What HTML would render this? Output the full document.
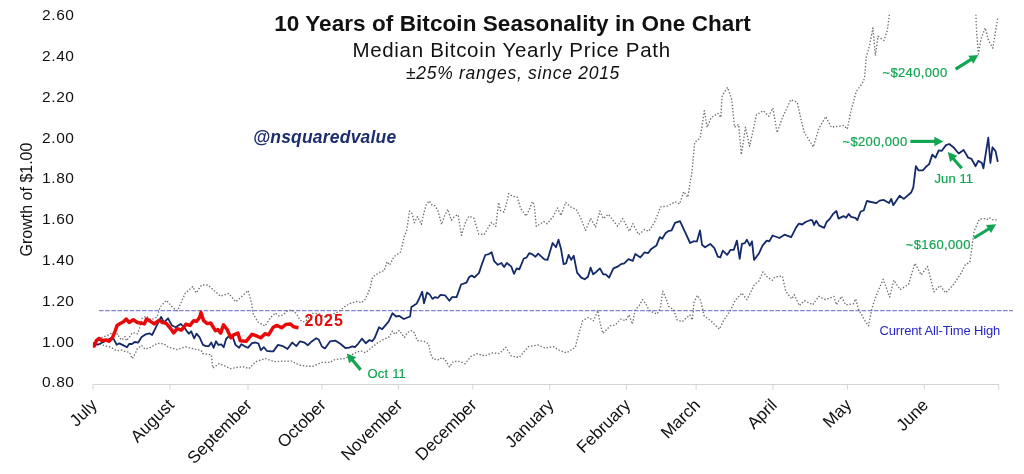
<!DOCTYPE html>
<html><head><meta charset="utf-8"><style>
html,body{margin:0;padding:0;background:#fff;}
svg{display:block;will-change:transform;}
text{font-family:"Liberation Sans", sans-serif;}
.yl{font-size:15.5px;fill:#111;letter-spacing:0.6px;}
.ml{font-size:17px;fill:#111;}
.g{font-size:13px;fill:#12a552;stroke:#12a552;stroke-width:0.2px;}
</style></head><body>
<svg width="1024" height="474" viewBox="0 0 1024 474">
<defs><clipPath id="plot"><rect x="88" y="14.5" width="930" height="375"/></clipPath></defs>
<rect width="1024" height="474" fill="#fff"/>
<text x="74.6" y="20.3" text-anchor="end" class="yl">2.60</text>
<text x="74.6" y="61.1" text-anchor="end" class="yl">2.40</text>
<text x="74.6" y="101.9" text-anchor="end" class="yl">2.20</text>
<text x="74.6" y="142.6" text-anchor="end" class="yl">2.00</text>
<text x="74.6" y="183.4" text-anchor="end" class="yl">1.80</text>
<text x="74.6" y="224.2" text-anchor="end" class="yl">1.60</text>
<text x="74.6" y="265.0" text-anchor="end" class="yl">1.40</text>
<text x="74.6" y="305.8" text-anchor="end" class="yl">1.20</text>
<text x="74.6" y="346.5" text-anchor="end" class="yl">1.00</text>
<text x="74.6" y="387.3" text-anchor="end" class="yl">0.80</text>

<text transform="translate(31.5 199.5) rotate(-90)" text-anchor="middle" style="font-size:16px;fill:#111">Growth of $1.00</text>
<line x1="92.5" y1="384.5" x2="999" y2="384.5" stroke="#d4d4d4" stroke-width="1"/>
<line x1="93" y1="384.5" x2="93" y2="389.5" stroke="#d4d4d4" stroke-width="1"/><line x1="170" y1="384.5" x2="170" y2="389.5" stroke="#d4d4d4" stroke-width="1"/><line x1="248" y1="384.5" x2="248" y2="389.5" stroke="#d4d4d4" stroke-width="1"/><line x1="322" y1="384.5" x2="322" y2="389.5" stroke="#d4d4d4" stroke-width="1"/><line x1="398.4" y1="384.5" x2="398.4" y2="389.5" stroke="#d4d4d4" stroke-width="1"/><line x1="472.8" y1="384.5" x2="472.8" y2="389.5" stroke="#d4d4d4" stroke-width="1"/><line x1="549.7" y1="384.5" x2="549.7" y2="389.5" stroke="#d4d4d4" stroke-width="1"/><line x1="626.6" y1="384.5" x2="626.6" y2="389.5" stroke="#d4d4d4" stroke-width="1"/><line x1="696.1" y1="384.5" x2="696.1" y2="389.5" stroke="#d4d4d4" stroke-width="1"/><line x1="773" y1="384.5" x2="773" y2="389.5" stroke="#d4d4d4" stroke-width="1"/><line x1="847.4" y1="384.5" x2="847.4" y2="389.5" stroke="#d4d4d4" stroke-width="1"/><line x1="924.3" y1="384.5" x2="924.3" y2="389.5" stroke="#d4d4d4" stroke-width="1"/><line x1="998.7" y1="384.5" x2="998.7" y2="389.5" stroke="#d4d4d4" stroke-width="1"/>
<text x="98" y="406" text-anchor="end" class="ml" transform="rotate(-45 98 406)">July</text>
<text x="175" y="406" text-anchor="end" class="ml" transform="rotate(-45 175 406)">August</text>
<text x="253" y="406" text-anchor="end" class="ml" transform="rotate(-45 253 406)">September</text>
<text x="327" y="406" text-anchor="end" class="ml" transform="rotate(-45 327 406)">October</text>
<text x="403.4" y="406" text-anchor="end" class="ml" transform="rotate(-45 403.4 406)">November</text>
<text x="477.8" y="406" text-anchor="end" class="ml" transform="rotate(-45 477.8 406)">December</text>
<text x="554.7" y="406" text-anchor="end" class="ml" transform="rotate(-45 554.7 406)">January</text>
<text x="631.6" y="406" text-anchor="end" class="ml" transform="rotate(-45 631.6 406)">February</text>
<text x="701.1" y="406" text-anchor="end" class="ml" transform="rotate(-45 701.1 406)">March</text>
<text x="778" y="406" text-anchor="end" class="ml" transform="rotate(-45 778 406)">April</text>
<text x="852.4" y="406" text-anchor="end" class="ml" transform="rotate(-45 852.4 406)">May</text>
<text x="929.3" y="406" text-anchor="end" class="ml" transform="rotate(-45 929.3 406)">June</text>

<text x="512.5" y="30.5" text-anchor="middle" style="font-size:22.5px;font-weight:bold;fill:#111;letter-spacing:0.07px">10 Years of Bitcoin Seasonality in One Chart</text>
<text x="511.6" y="56.5" text-anchor="middle" style="font-size:20.5px;fill:#111;letter-spacing:0.69px">Median Bitcoin Yearly Price Path</text>
<text x="513" y="79.2" text-anchor="middle" style="font-size:17.5px;font-style:italic;fill:#111;letter-spacing:0.73px">±25% ranges, since 2015</text>
<text x="253" y="143.1" style="font-size:17.5px;font-weight:bold;font-style:italic;fill:#1b2d6e;letter-spacing:0.2px">@nsquaredvalue</text>
<line x1="99" y1="310.5" x2="1013" y2="310.5" stroke="#8583cf" stroke-width="1.25" stroke-dasharray="4.6 1.55"/>
<g clip-path="url(#plot)" fill="none" stroke-linejoin="round">
<path d="M93,343 L98,340 L103,337 L108.5,335 L112,333 L118,334 L119,337.5 L122,340 L125,336.5 L126.4,340.7 L130,336.5 L131.7,333.3 L135.4,332.8 L137.5,333.8 L139.6,328 L142.2,318.2 L146.4,316.1 L151.1,319.8 L156.9,317.2 L160.1,307.1 L166.4,300.3 L172.8,307.7 L177.5,310.8 L181.2,302.4 L185.4,292.9 L192.8,286.6 L196,292.9 L201.6,285 L207.9,285 L213.4,289.9 L220.4,296.2 L228.7,293.4 L235.7,301.8 L241.3,296.9 L248.2,290.6 L251.7,303.9 L253.1,313.6 L258,322 L265,326.1 L270.5,317.8 L275.3,312.9 L279,316 L283,315 L287,311 L292,310 L296.5,313.8 L300,320 L303,322 L306,321 L312,313.4 L318.5,313.4 L324,317 L331,314.5 L336,313 L340.3,310.3 L344.4,306.9 L349.9,303.5 L356.8,301.4 L361.6,302.8 L365,299.4 L367.8,293.9 L370.5,287 L371.9,278.8 L374.6,275.4 L381.5,271.3 L384.2,270.6 L387,261.7 L389.7,265.1 L393.8,256.9 L400.5,252 L401.9,247 L404.2,236.9 L406.6,230.6 L408.1,221.3 L409.4,211.1 L412,213.4 L414.4,222.8 L417.5,216.6 L421.4,224.4 L423.8,213.4 L426.1,204.8 L429.2,200.9 L432.3,205.6 L434.7,205.6 L437.8,210.3 L441.7,224.4 L444.4,216.1 L447.8,209.3 L451.3,220.2 L454.7,216.1 L458.1,214.8 L461.5,235.3 L465.7,221.6 L469.1,216.1 L473.9,218.2 L478.7,234 L484.2,234.6 L489,226.4 L491.7,222.3 L495.8,226.4 L498.6,202.4 L500.6,210.7 L504,212 L506.8,202.4 L508.8,193.5 L512.3,196.3 L517.1,197 L520.5,207.9 L526,216.1 L530.1,207.9 L532.2,201.7 L534.2,204.5 L536.3,226.4 L543.8,221.6 L547.2,223.7 L553.4,216.1 L557.5,207.9 L561,215.5 L565.7,202.4 L570.3,206.8 L576.2,209.3 L581.3,219.4 L585.5,230.4 L590.6,218.6 L595.6,227 L599.9,211 L603.2,218.6 L608.3,214.3 L617.6,226.2 L622.6,218.6 L629.4,231.2 L632.8,223.6 L638.7,234.6 L644.6,229.5 L648.8,231.2 L654.7,221.9 L658.1,213.5 L660.6,206.8 L668.2,205.9 L675,201.7 L679.6,204 L683.7,191.7 L687.8,197.2 L692,171.1 L694.7,142.3 L700.2,138.1 L704.3,110.7 L707.1,127.2 L711.2,117.5 L718,113.4 L720.8,117.5 L722.2,95.6 L727.6,87.4 L731.8,99.7 L734.5,127.2 L738.6,124.4 L741.4,154.6 L745.5,127.2 L749.6,146.4 L756.5,114.8 L763.3,110.7 L768.8,116.2 L772.9,108 L777.1,132.6 L782.5,117.5 L790.8,99.7 L797.2,102.2 L800.8,118.3 L804.3,132.6 L807.9,138 L813.3,147 L818.7,129 L825.8,116.5 L831.2,127.2 L843.8,125.4 L847.3,129 L850.9,111.1 L856.3,91.4 L861.7,84.2 L864.5,78.5 L866.2,57.4 L869.5,45.6 L872.9,27.9 L875.4,55.7 L878,36.3 L883.9,40.5 L887.3,30.4 L889.3,15.2 L893,-10 L972,-10 L975.9,15.2 L976.7,33.8 L978.4,54 L981,38.8 L985.2,27.9 L988.5,40.5 L992.8,48.1 L997.8,17.7" stroke="#6e6e6e" stroke-width="1.35" stroke-dasharray="1.4 1.85"/>
<path d="M93,344 L100.6,344.4 L105.8,346 L110,347 L113.2,348.6 L116.4,350.7 L121.7,350.2 L125.9,351.8 L129.6,352.3 L130.6,354.9 L132.2,358.6 L135.4,353.4 L137,349.1 L141.7,345.4 L144.9,349.1 L149.1,348.1 L157.5,343.3 L163.9,343.9 L168.1,347 L177,349.6 L185.5,346.8 L187,347.2 L194.2,349 L201.3,350.5 L202.5,353.5 L211.4,354.8 L212.7,368.1 L219,363.6 L225.4,366.2 L230.5,368.7 L236.8,367.5 L243.2,366.8 L248.9,368.7 L255.9,361.7 L265.4,358.6 L271.1,360.5 L276.2,361.7 L282.5,361.1 L291.4,361.1 L299,364.9 L306.6,366.2 L313,366.2 L321.9,362.4 L330,362.4 L335.2,359.4 L345.4,358.4 L354.3,353.3 L360.6,350.8 L365.7,352.7 L370.8,348.2 L377.1,343.2 L383.5,339.4 L389.2,336.8 L392.4,331.1 L394.9,334.3 L399.3,330.5 L404.4,337.5 L407.6,332.4 L411.4,330.5 L414.6,333 L417.1,340.6 L424.1,341.3 L428.5,343.8 L430.4,353.3 L433,359 L439.4,359.8 L441.7,357.5 L444.8,359.1 L449.5,366.9 L453.4,361.4 L459.7,361.4 L465.2,363.8 L470.6,356.7 L476.9,353.6 L484.7,355.9 L492.5,352.8 L499.5,353.6 L505.8,347.3 L511.3,355.9 L519.1,357.5 L528.4,346.6 L537.8,345 L545.6,348.1 L553.4,346.6 L559.7,350.5 L566.7,352.8 L575.3,347.3 L577.7,337.6 L582.6,320.8 L588.5,317.4 L593.6,320.8 L597.8,310.6 L600.3,324.1 L602.8,333.4 L610.4,325.8 L615.5,325 L620.6,319.1 L625.6,320.8 L629,314.9 L632.4,324.1 L635,310.6 L639.1,305.6 L642.5,299.7 L645.9,303.9 L649.3,310.6 L656.9,314 L660.2,308.9 L662.8,291.2 L666.1,298.8 L668.7,306.4 L673.7,309.8 L677.1,319.9 L682.2,321.6 L689.8,314.9 L692.3,319.9 L694,302.2 L697.4,295.4 L700.7,300.5 L704.1,315.7 L711.7,321.6 L719.3,329.2 L723.5,320.8 L730.3,310.6 L735.1,300.6 L741.9,293 L746.9,299.7 L754.5,284.5 L758.8,281.2 L763,271.9 L767.2,276.9 L772.3,280.3 L774.8,276.9 L782.4,276.1 L785.8,291.3 L791.7,298.9 L794.2,294.7 L799.3,305.6 L804.3,300.6 L812.8,304.8 L818.7,296.4 L825.4,299.7 L833.9,296.4 L836.4,304.8 L841.5,296.4 L845.7,304.8 L853.3,303.9 L855.8,298.9 L858.3,309 L865.1,320.8 L868.5,325.9 L871.8,309 L874.4,300.6 L877.7,292.1 L883.2,279.2 L889.6,297.1 L893.8,280.2 L900.1,289.7 L908.5,284.4 L914.9,263.3 L921.2,274.9 L927.5,266.5 L933.9,291.8 L940.2,285.5 L945.5,292.9 L952.9,285.5 L961.3,272.8 L965.5,264.4 L969.8,262.3 L971.9,247.5 L974.1,231.5 L976.3,226.1 L979.5,219.1 L984.9,218.6 L987,219.5 L989.2,217.6 L992.4,219.7 L996.7,219.9" stroke="#6e6e6e" stroke-width="1.35" stroke-dasharray="1.4 1.85"/>
<path d="M93,343.5 L94.3,344 L97.7,344.7 L101.9,342.7 L106.1,340.6 L110.3,338.5 L113.8,339.2 L116.6,344.7 L119.3,343.4 L123.5,345.4 L127,347.3 L129.1,344 L131.9,344 L134.7,342 L138.1,342.7 L141.6,337.1 L145.8,334.3 L149.3,333.3 L152.1,335 L156.2,326.6 L161.1,316.9 L163.9,322.5 L168.1,318.3 L171.6,325.2 L175.7,327.3 L180.6,323.9 L184.1,327.3 L187.6,332.2 L188.9,333.7 L191.2,331.3 L194.2,338.4 L196.5,333.7 L199.5,337.2 L203,344.9 L206,346.1 L208.9,346.1 L211.3,342.5 L213.7,347.8 L216,341.3 L218.4,344.9 L221.3,344.3 L223.7,347.2 L226.1,339 L229.6,335.4 L232.6,336.6 L235.5,344.9 L239.1,347.8 L241.4,344.3 L244.4,346.1 L247.9,347.8 L252,343.1 L255.6,342.5 L258.5,343.7 L260.9,350.2 L263.9,347.2 L266.8,350.8 L270.9,351.4 L273.3,351.4 L278,344.9 L282.8,346.1 L287.5,349 L292.2,342.5 L296.3,346.1 L300,341.3 L304.7,342.7 L307.9,345.2 L311.7,341.4 L316.2,338.3 L318.7,339.5 L321.9,346.5 L325,348.4 L330,341.4 L335.2,340.6 L340.3,343.8 L345.4,348 L349.2,347.6 L352.4,346.3 L354.9,347.2 L358.1,343.8 L361.9,338.7 L365.7,343.2 L369.5,340 L372.1,341.3 L374.6,338.1 L379,327.3 L382.2,329.2 L388.6,321.6 L392.4,313.3 L396.2,316.5 L399.3,315.9 L403.8,319 L410.1,316.5 L411.4,307 L416.5,303.8 L419,299 L422.2,291.7 L424,303.3 L427,292.6 L429.7,294.4 L432.4,298.9 L435.1,297.1 L437.8,298 L440.5,294.9 L445,295.3 L449.4,300.7 L452.1,297.1 L456.6,297.1 L461.1,284.5 L466.5,282.7 L469.2,277 L471.8,275.6 L474.5,277.4 L479,272.9 L481.7,264.8 L485.3,255 L488.9,254.1 L491.6,252.3 L494.2,261.2 L497.8,264.8 L501.4,263 L504.1,267 L506.8,263 L511.3,266.6 L514,273.8 L516.7,268.4 L519.3,269.3 L523.8,258.5 L526.5,257.6 L529.2,253.2 L531.9,254.1 L535.5,256.7 L538.2,253.7 L544.4,259.4 L547.5,259.9 L552.6,243 L556,247.3 L558.5,239.7 L561,248.9 L563.6,264.1 L566.1,263.3 L568.6,254.9 L571.2,259.9 L573.7,255.7 L577.1,272.6 L581.3,277.6 L584.7,279.3 L588,276.8 L590.6,267.5 L593.1,274.3 L596.5,271.7 L599.9,268.4 L603.2,274.3 L605.8,274.3 L609.1,277.6 L613.4,268.4 L617.6,266.7 L621,264.1 L624.3,263.3 L628.5,259.1 L632.8,260.8 L635.3,254 L640.4,257.4 L644.6,252.3 L648,253.2 L651.3,248.9 L656.4,245.6 L659.8,237.1 L662.3,238.8 L665.7,232.9 L668.2,231.2 L671.6,230.4 L675,222.8 L680,221.1 L685.1,232.1 L690.1,243 L693.5,241.4 L696.9,241.4 L700,230.4 L702,244.7 L705.1,247.3 L710.2,243.9 L714.4,248.2 L717.8,256.6 L720.3,257.4 L722.8,250.7 L727.1,254.9 L730.4,249.9 L733.8,249.9 L736.9,240.6 L739.7,258.8 L741.9,243.9 L744.8,243.1 L746.8,239.7 L749.9,245.6 L752,241.4 L754.1,260 L759.1,253.2 L762.5,245.6 L766.7,240.6 L769.3,241.4 L772.6,235.5 L779.4,238 L784.5,234.7 L791.2,237.2 L796.3,227.1 L798.8,223.7 L802.2,224.5 L805.5,222 L810.6,220 L812.3,220.3 L814,225 L816.2,220.7 L819,225.4 L824.1,227.9 L826.6,222 L830,218.6 L833.4,213.6 L836.4,211 L838.5,218.6 L843.5,216.1 L846.1,217.8 L848.6,213.9 L851.1,216.9 L855.3,217.9 L857.4,220 L860.6,211.5 L863.7,210.5 L866.9,201 L871.1,202 L876.4,203.1 L879.6,200.6 L883.8,199.9 L889,203.1 L891.2,198.9 L893.3,205.2 L899.6,195.7 L903.8,198.9 L911.2,192.5 L913.3,187.3 L915.9,166.2 L918.6,170.4 L922.8,170.4 L926,166.8 L929.2,164.1 L932.3,154.6 L935.5,157.7 L938.7,150.3 L941.8,150.8 L946,145.1 L949.2,144 L953.4,147.2 L958.7,153.5 L963.6,149.9 L968.2,157.7 L971.4,158.8 L975.6,166.2 L978.3,160.9 L981.9,163 L983.4,168.3 L988.3,137.7 L990.4,163 L992.5,147.2 L995.6,151.4 L997.8,161.9" stroke="#13296a" stroke-width="1.8"/>
<path d="M93,346 L94.3,346.1 L96.4,340.6 L99.1,338.5 L101.9,340.6 L106.1,339.9 L108.9,341.3 L112.4,337.8 L115.2,330.8 L117.2,325.2 L120.7,323.2 L123.5,321.8 L126.3,319 L129.1,322.5 L133.3,319.7 L137.4,322.5 L141.6,323.2 L144.4,323.9 L146.5,319 L150,321.1 L154.2,323.9 L159,320.4 L162.5,322.5 L166,323.2 L170.2,328 L173.7,332.9 L177.1,328.7 L181.3,330.1 L183,328.3 L185.9,324.2 L190,325.4 L193.6,320.7 L196.5,321.3 L199.5,317.7 L201,312.4 L203.6,320.7 L207.2,323.6 L210.7,323 L215.4,330.7 L217.8,329.5 L220.7,333.1 L223.5,324.8 L227.2,329.5 L230.8,337.8 L233.7,334.8 L237.9,333.1 L240.2,340.7 L246.1,341.3 L252,334.3 L256.8,336 L260.9,337.8 L265,333.7 L268.6,334.8 L273.3,327.2 L276.8,325.4 L281.6,327.8 L285.7,324.5 L290.5,324 L293.6,326.8 L298.5,327.7" stroke="#e80a0a" stroke-width="3.5"/>
</g>
<text x="304.5" y="325.8" style="font-size:16px;font-weight:bold;fill:#e80a0a;letter-spacing:0.9px">2025</text>
<text x="879.5" y="334.9" style="font-size:13px;fill:#2626c8;letter-spacing:-0.15px">Current All-Time High</text>
<line x1="360.7" y1="369.9" x2="352.0" y2="359.5" stroke="#12a552" stroke-width="3.2"/><polygon points="346.8,353.4 356.2,357.2 349.0,363.3" fill="#12a552"/>
<text x="367.5" y="377.7" class="g" style="letter-spacing:0.2px">Oct 11</text>
<line x1="910.4" y1="141.4" x2="935.4" y2="141.4" stroke="#12a552" stroke-width="3.2"/><polygon points="943.4,141.4 934.4,146.2 934.4,136.7" fill="#12a552"/>
<text x="842.5" y="145.8" class="g" style="letter-spacing:0.35px">~$200,000</text>
<line x1="961.7" y1="168.2" x2="953.0" y2="158.2" stroke="#12a552" stroke-width="3.2"/><polygon points="947.8,152.1 957.3,155.8 950.1,162.0" fill="#12a552"/>
<text x="934.5" y="183.3" class="g" style="letter-spacing:0.1px">Jun 11</text>
<line x1="955.6" y1="69.2" x2="971.6" y2="59.2" stroke="#12a552" stroke-width="3.2"/><polygon points="978.4,54.9 973.3,63.7 968.3,55.7" fill="#12a552"/>
<text x="882.5" y="76.8" class="g" style="letter-spacing:0.35px">~$240,000</text>
<line x1="974.0" y1="238.0" x2="989.3" y2="228.5" stroke="#12a552" stroke-width="3.2"/><polygon points="996.1,224.3 991.0,233.1 985.9,225.0" fill="#12a552"/>
<text x="905.8" y="248.5" class="g" style="letter-spacing:0.35px">~$160,000</text>
</svg>
</body></html>
